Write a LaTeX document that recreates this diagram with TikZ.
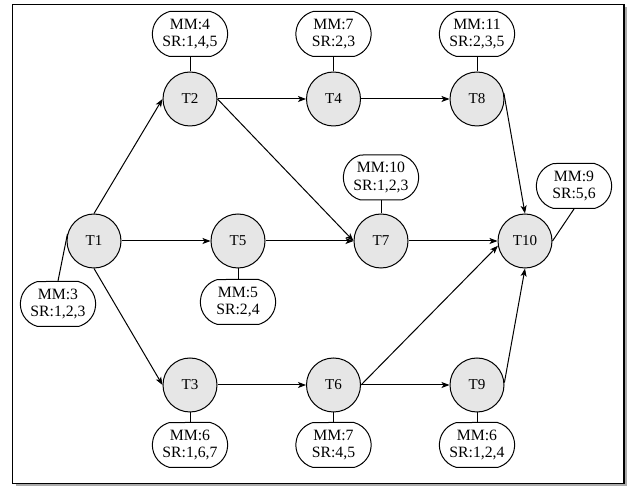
\documentclass[tikz,border=0pt]{standalone}
\usepackage{fontspec}
\setmainfont{Liberation Serif}
\usetikzlibrary{arrows.meta,shapes.misc}
\definecolor{taskfill}{RGB}{230,230,230}
\definecolor{shadowgray}{RGB}{170,170,170}
\tikzset{
  task/.style={circle, draw, fill=taskfill, line width=0.75pt, minimum size=40.5pt, inner sep=0pt, font=\fontsize{11.3}{13}\selectfont},
  info/.style={rounded rectangle, rounded rectangle arc length=150, draw, fill=white, line width=0.75pt, minimum width=58.5pt, minimum height=33.75pt, inner sep=1pt, align=center, font=\fontsize{11.8}{12.8}\selectfont},
  flow/.style={line width=0.75pt, -{Stealth[length=6pt, width=4.5pt, inset=1.5pt]}},
  tie/.style={line width=0.75pt}
}
\begin{document}
\begin{tikzpicture}[x=0.75pt, y=-0.75pt]
\useasboundingbox (0,0) rectangle (629,488);
% frame with shadow
\fill[shadowgray] (15.5,7.5) rectangle (627,486.5);
\draw[line width=0.9pt, fill=white] (12.5,4.5) rectangle (624,483.5);

% tasks
\node[task] (T1) at (94,241) {T1};
\node[task] (T2) at (190,99) {T2};
\node[task] (T4) at (333.5,99) {T4};
\node[task] (T8) at (477,99) {T8};
\node[task] (T5) at (238,241) {T5};
\node[task] (T7) at (381,241) {T7};
\node[task] (T10) at (525,241) {T10};
\node[task] (T3) at (190,385) {T3};
\node[task] (T6) at (333.5,385) {T6};
\node[task] (T9) at (477,385) {T9};

% info labels
\node[info] (L1) at (58,304) {MM:3\\SR:1,2,3};
\node[info] (L2) at (190,34) {MM:4\\SR:1,4,5};
\node[info] (L4) at (333.5,34) {MM:7\\SR:2,3};
\node[info] (L8) at (477,34) {MM:11\\SR:2,3,5};
\node[info] (L7) at (381,177.5) {MM:10\\SR:1,2,3};
\node[info] (L10) at (574,186) {MM:9\\SR:5,6};
\node[info] (L5) at (238,302) {MM:5\\SR:2,4};
\node[info] (L3) at (190,445) {MM:6\\SR:1,6,7};
\node[info] (L6) at (333.5,445) {MM:7\\SR:4,5};
\node[info] (L9) at (477,445) {MM:6\\SR:1,2,4};

% ties
\draw[tie] (L1.north) -- (T1.165);
\draw[tie] (L2.south) -- (T2.north);
\draw[tie] (L4.south) -- (T4.north);
\draw[tie] (L8.south) -- (T8.north);
\draw[tie] (L7.south) -- (T7.north);
\draw[tie] (L10.south) -- (T10.east);
\draw[tie] (L5.north) -- (T5.south);
\draw[tie] (L3.north) -- (T3.south);
\draw[tie] (L6.north) -- (T6.south);
\draw[tie] (L9.north) -- (T9.south);

% flows
\draw[flow] (T1.north) -- (T2.west);
\draw[flow] (T1.east) -- (T5.west);
\draw[flow] (T1.south) -- (T3.west);
\draw[flow] (T2.east) -- (T4.west);
\draw[flow] (T2.east) -- (T7.west);
\draw[flow] (T4.east) -- (T8.west);
\draw[flow] (T8.12) -- (T10.north);
\draw[flow] (T5.east) -- (T7.west);
\draw[flow] (T7.east) -- (T10.west);
\draw[flow] (T3.east) -- (T6.west);
\draw[flow] (T6.east) -- (T9.west);
\draw[flow] (T6.east) -- (T10.190);
\draw[flow] (T9.5) -- (T10.south);
\end{tikzpicture}
\end{document}
